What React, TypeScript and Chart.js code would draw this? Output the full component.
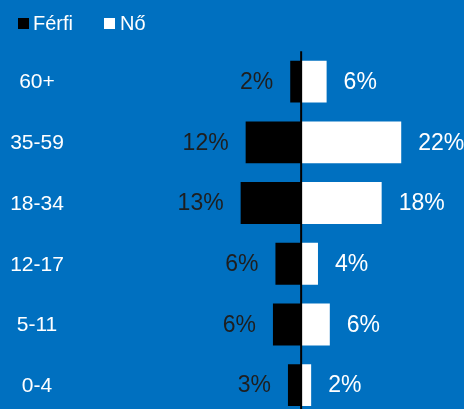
import React, { useEffect, useRef } from "react";
import { Chart, registerables } from "chart.js";

Chart.register(...registerables);

const categories = ["60+", "35-59", "18-34", "12-17", "5-11", "0-4"];
const menValues = [2.4, 12.2, 13.3, 5.65, 6.2, 2.9];
const womenValues = [5.6, 22.0, 17.7, 3.7, 6.3, 2.2];
const seriesNames = ["Férfi", "Nő"];

const BG = "#0070C0";
const FONT = "'Liberation Sans', Arial, sans-serif";

const overlayPlugin = {
  id: "overlay",
  afterDatasetsDraw(chart: any) {
    const ctx = chart.ctx;
    const xs = chart.scales.x;
    const ys = chart.scales.y;
    const area = chart.chartArea;
    ctx.save();
    // zero line
    const x0 = xs.getPixelForValue(0);
    ctx.strokeStyle = "#000";
    ctx.lineWidth = 2;
    ctx.beginPath();
    ctx.moveTo(x0, area.top);
    ctx.lineTo(x0, area.bottom);
    ctx.stroke();

    // category labels
    ctx.font = `21px ${FONT}`;
    ctx.fillStyle = "#fff";
    ctx.textAlign = "center";
    ctx.textBaseline = "middle";
    categories.forEach((c, i) => {
      ctx.fillText(c, 37, ys.getPixelForValue(i) + 1);
    });

    // data labels
    ctx.font = `23px ${FONT}`;
    ctx.textBaseline = "middle";
    chart.getDatasetMeta(0).data.forEach((el: any, i: number) => {
      ctx.fillStyle = "#1e1e1e";
      ctx.textAlign = "right";
      ctx.fillText(Math.round(menValues[i]) + "%", el.x - 17, el.y + 1);
    });
    chart.getDatasetMeta(1).data.forEach((el: any, i: number) => {
      ctx.fillStyle = "#fff";
      ctx.textAlign = "left";
      ctx.fillText(Math.round(womenValues[i]) + "%", el.x + 17, el.y + 1);
    });

    // legend
    ctx.font = `20px ${FONT}`;
    ctx.textBaseline = "alphabetic";
    ctx.textAlign = "left";
    ctx.fillStyle = "#000";
    ctx.fillRect(18, 18, 11, 11);
    ctx.fillStyle = "#fff";
    ctx.fillText(seriesNames[0], 33, 29.5);
    ctx.fillRect(104, 18, 11, 11);
    ctx.fillText(seriesNames[1], 120, 29.5);
    ctx.restore();
  },
};

export default function App() {
  const ref = useRef<HTMLCanvasElement>(null);
  useEffect(() => {
    document.body.style.margin = "0";
    document.body.style.overflow = "hidden";
    const chart = new Chart(ref.current!, {
      type: "bar",
      data: {
        labels: categories,
        datasets: [
          {
            label: seriesNames[0],
            data: menValues.map((v) => -v),
            backgroundColor: "#000",
            borderWidth: 0,
          },
          {
            label: seriesNames[1],
            data: womenValues,
            backgroundColor: "#fff",
            borderWidth: 0,
          },
        ],
      },
      options: {
        indexAxis: "y",
        animation: false,
        responsive: false,
        maintainAspectRatio: false,
        layout: { padding: { top: 51.3, bottom: 4.5, left: 0, right: 0 } },
        datasets: { bar: { categoryPercentage: 1, barPercentage: 0.69 } },
        scales: {
          x: { display: false, stacked: true, min: -66.2, max: 35.8 },
          y: { display: false, stacked: true },
        },
        plugins: { legend: { display: false }, tooltip: { enabled: false } },
      },
      plugins: [
        {
          id: "bg",
          beforeDraw(c: any) {
            c.ctx.save();
            c.ctx.fillStyle = BG;
            c.ctx.fillRect(0, 0, c.width, c.height);
            c.ctx.restore();
          },
        },
        overlayPlugin,
      ],
    } as any);
    return () => chart.destroy();
  }, []);
  return (
    <div style={{ width: 464, height: 420, background: BG }}>
      <canvas ref={ref} width={464} height={420} style={{ display: "block" }} />
    </div>
  );
}
